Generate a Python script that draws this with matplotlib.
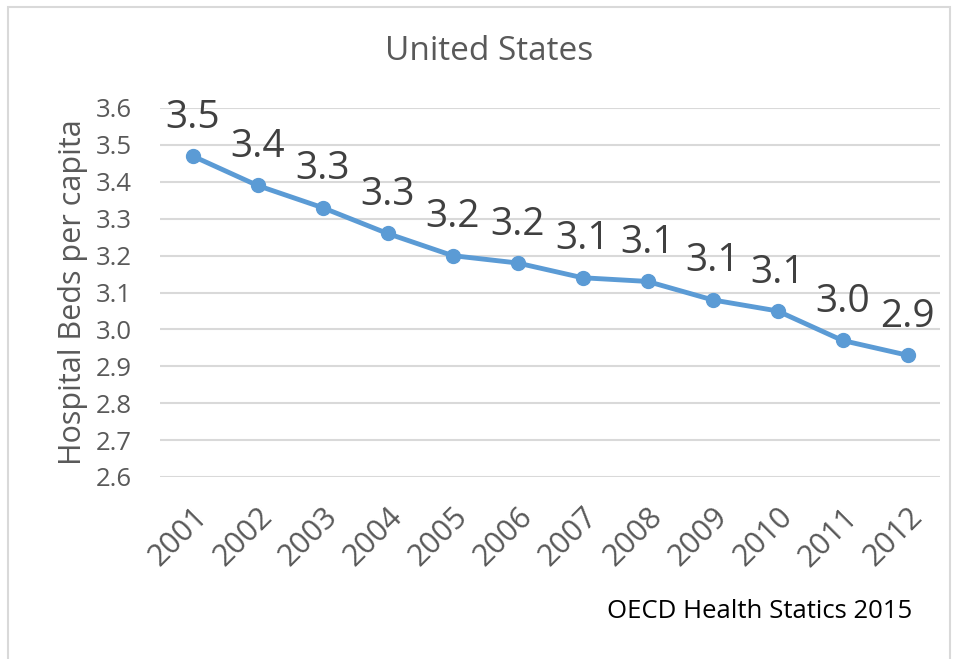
import matplotlib.pyplot as plt
from matplotlib.patches import Rectangle

years = ['2001', '2002', '2003', '2004', '2005', '2006',
         '2007', '2008', '2009', '2010', '2011', '2012']
beds = [3.47, 3.39, 3.33, 3.26, 3.20, 3.18, 3.14, 3.13, 3.08, 3.05, 2.97, 2.93]
labels = ['3.5', '3.4', '3.3', '3.3', '3.2', '3.2', '3.1', '3.1', '3.1', '3.1', '3.0', '2.9']
yticks = [2.6, 2.7, 2.8, 2.9, 3.0, 3.1, 3.2, 3.3, 3.4, 3.5, 3.6]

plt.rcParams['font.family'] = ['Open Sans', 'DejaVu Sans']

W, H = 958, 659
fig = plt.figure(figsize=(W / 100, H / 100), dpi=100)

# cadre gris du graphique
fig.patches.append(Rectangle((8 / W, -0.01), (950 - 8) / W, 1.01 - 7 / H,
                             transform=fig.transFigure, fill=False,
                             edgecolor='#D9D9D9', linewidth=1.5))

ax = fig.add_axes([160 / W, 1 - 477 / H, (940 - 160) / W, (477 - 108) / H])

x = list(range(len(years)))
ax.plot(x, beds, color='#5B9BD5', linewidth=3.5, marker='o', markersize=10,
        solid_capstyle='round', zorder=3)

for xi, yi, lab in zip(x, beds, labels):
    ax.annotate(lab, (xi, yi), xytext=(0, 14), textcoords='offset points',
                ha='center', va='bottom', fontsize=28, color='#404040')

ax.set_xlim(-0.5, len(years) - 0.5)
ax.set_ylim(2.6, 3.6)
ax.set_yticks(yticks)
ax.set_yticklabels([f'{v:.1f}' for v in yticks])
ax.set_xticks(x)
ax.set_xticklabels(years, rotation=45, ha='right', rotation_mode='anchor')
ax.tick_params(axis='both', length=0, labelcolor='#595959')
ax.tick_params(axis='y', labelsize=18.5, pad=20)
ax.tick_params(axis='x', labelsize=22, pad=18)
ax.grid(axis='y', color='#D9D9D9', linewidth=1.5)
ax.set_axisbelow(True)
for s in ax.spines.values():
    s.set_visible(False)

ax.set_ylabel('Hospital Beds per capita', fontsize=22, color='#595959', labelpad=6)
fig.text(489 / W, 1 - 52 / H, 'United States', ha='center', va='center',
         fontsize=24, color='#595959')
fig.text(912 / W, 1 - 612 / H, 'OECD Health Statics 2015', ha='right', va='center',
         fontsize=18.5, color='black')

fig.savefig('out.png', dpi=100)
